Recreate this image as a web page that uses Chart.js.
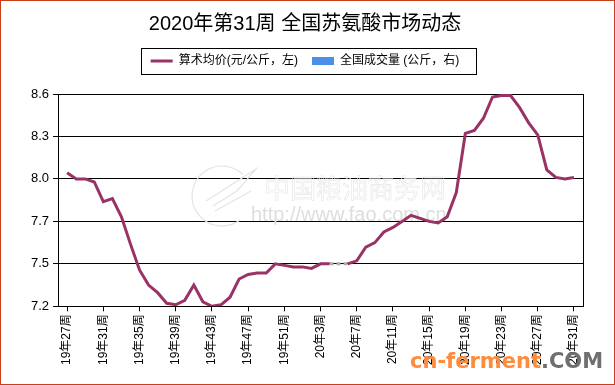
<!DOCTYPE html>
<html>
<head>
<meta charset="utf-8">
<script src="https://cdn.jsdelivr.net/npm/chart.js@4/dist/chart.umd.min.js"></script>
<style>
  html, body { margin: 0; padding: 0; background: #fff; }
  #wrap { position: relative; width: 615px; height: 385px; box-sizing: border-box; border: 1px solid #c8401a; }
  canvas { display: block; }
</style>
</head>
<body>
<div id="wrap"><canvas id="c" width="613" height="383"></canvas></div>
<script>
const titleText = "2020年第31周 全国苏氨酸市场动态";
const seriesNames = ["算术均价(元/公斤，左)", "全国成交量 (公斤，右)"];

const weekLabels = [
  "19年27周", "19年28周", "19年29周", "19年30周", "19年31周", "19年32周", "19年33周", "19年34周",
  "19年35周", "19年36周", "19年37周", "19年38周", "19年39周", "19年40周", "19年41周", "19年42周",
  "19年43周", "19年44周", "19年45周", "19年46周", "19年47周", "19年48周", "19年49周", "19年50周",
  "19年51周", "19年52周", "20年1周", "20年2周", "20年3周", "20年4周", "20年5周", "20年6周",
  "20年7周", "20年8周", "20年9周", "20年10周", "20年11周", "20年12周", "20年13周", "20年14周",
  "20年15周", "20年16周", "20年17周", "20年18周", "20年19周", "20年20周", "20年21周", "20年22周",
  "20年23周", "20年24周", "20年25周", "20年26周", "20年27周", "20年28周", "20年29周", "20年30周",
  "20年31周"
];

// average price, yuan/kg (week 20年5周 missing)
const avgPrice = [
  8.08, 8.04, 8.04, 8.02, 7.89, 7.91, 7.79, 7.61, 7.44, 7.34,
  7.29, 7.22, 7.21, 7.24, 7.34, 7.23, 7.20, 7.21, 7.26, 7.38,
  7.41, 7.42, 7.42, 7.48, 7.47, 7.46, 7.46, 7.45, 7.48, 7.48,
  null, 7.48, 7.50, 7.59, 7.62, 7.69, 7.72, 7.76, 7.80, 7.78,
  7.76, 7.75, 7.79, 7.95, 8.34, 8.36, 8.44, 8.58, 8.59, 8.59,
  8.51, 8.41, 8.33, 8.10, 8.05, 8.04, 8.05
];

// national volume: no values shown in the picture
const volume = [];

const xTickIndex = [0, 4, 8, 12, 16, 20, 24, 28, 32, 36, 40, 44, 48, 52, 56];
const yTickValues = [7.2, 7.48, 7.76, 8.04, 8.32, 8.6];
const yTickLabels = ["7.2", "7.5", "7.7", "8.0", "8.3", "8.6"];

const LINE = "#993366";
const BLUE = "#4a90e8";

const skipped = (ctx, v) => (ctx.p0.skip || ctx.p1.skip ? v : undefined);

// extra room under the legend
const legendGap = {
  id: "legendGap",
  beforeInit(chart) {
    const fit = chart.legend.fit;
    chart.legend.fit = function () {
      fit.call(this);
      this.height += 17;
    };
  }
};

// faint site watermark under the line, orange one on top
const watermark = {
  id: "watermark",
  beforeDatasetsDraw(chart) {
    const c = chart.ctx;
    c.save();
    c.strokeStyle = "#e4e4e4";
    c.lineWidth = 1.2;
    c.beginPath();
    c.arc(221, 195, 30, Math.PI * 0.3, Math.PI * 1.75);
    c.stroke();
    c.beginPath();
    c.moveTo(205, 200); c.lineTo(255, 168); c.lineTo(236, 190); c.lineTo(212, 205);
    c.moveTo(214, 210); c.lineTo(250, 190);
    c.stroke();
    c.lineWidth = 0.6;
    c.strokeStyle = "#e6e6e6";
    c.font = "26px 'Noto Sans CJK SC'";
    c.textBaseline = "alphabetic";
    c.strokeText("中国粮油商务网", 263, 197);
    c.fillStyle = "#dedede";
    c.font = "20px 'Liberation Sans'";
    c.fillText("http://www.fao.com.cn", 250, 220);
    c.restore();
  },
  afterDraw(chart) {
    const c = chart.ctx;
    c.save();
    // legend frame
    const boxes = chart.legend.legendHitBoxes;
    if (boxes.length) {
      const l = Math.min(...boxes.map(b => b.left)) - 10;
      const r = Math.max(...boxes.map(b => b.left + b.width)) + 16;
      const cy = boxes[0].top + boxes[0].height / 2;
      c.strokeStyle = "#000";
      c.lineWidth = 1;
      c.strokeRect(Math.round(l) + 0.5, Math.round(cy - 13) + 0.5, Math.round(r - l), 26);
    }
    c.font = "bold 21px 'DejaVu Sans'";
    c.textBaseline = "alphabetic";
    c.fillStyle = "#ff8c3c";
    c.fillText("cn-ferment", 409, 367);
    const w = c.measureText("cn-ferment").width;
    c.fillStyle = "#6f6f6f";
    c.fillText(".COM", 409 + w, 367);
    c.restore();
  }
};

new Chart(document.getElementById("c"), {
  data: {
    datasets: [
      {
        type: "line",
        label: seriesNames[0],
        data: avgPrice.map((v, i) => ({ x: i, y: v })),
        borderColor: LINE,
        backgroundColor: LINE,
        borderWidth: 3,
        pointRadius: 0,
        pointStyle: "line",
        tension: 0,
        spanGaps: true,
        segment: {
          borderColor: ctx => skipped(ctx, "#aaaaaa"),
          borderDash: ctx => skipped(ctx, [4, 3])
        },
        yAxisID: "y"
      },
      {
        type: "bar",
        label: seriesNames[1],
        data: volume,
        backgroundColor: BLUE,
        borderWidth: 0,
        pointStyle: "rect",
        yAxisID: "y1"
      }
    ]
  },
  options: {
    responsive: false,
    animation: false,
    layout: { padding: { left: 26, right: 31, top: 0, bottom: 16 } },
    plugins: {
      title: {
        display: true,
        text: titleText,
        color: "#000",
        font: { family: "'Liberation Sans', 'Noto Sans CJK SC'", size: 20, weight: "normal" },
        padding: { top: 11, bottom: 5 }
      },
      legend: {
        display: true,
        position: "top",
        labels: {
          color: "#000",
          font: { family: "'Liberation Sans', 'Noto Sans CJK SC'", size: 12 },
          usePointStyle: true,
          pointStyleWidth: 22,
          boxHeight: 8,
          padding: 14
        }
      },
      tooltip: { enabled: false }
    },
    scales: {
      x: {
        type: "linear",
        min: -1,
        max: 57,
        offset: false,
        afterBuildTicks: s => { s.ticks = xTickIndex.map(v => ({ value: v })); },
        ticks: {
          autoSkip: false,
          minRotation: 90,
          maxRotation: 90,
          color: "#000",
          padding: 3,
          font: { family: "'Liberation Sans', 'Noto Sans CJK SC'", size: 12 },
          callback: v => weekLabels[v]
        },
        grid: { offset: false, drawOnChartArea: false, drawTicks: true, tickLength: 5, color: "#000" },
        border: { color: "#000", width: 1 }
      },
      y: {
        position: "left",
        min: 7.2,
        max: 8.6,
        afterBuildTicks: s => { s.ticks = yTickValues.map(v => ({ value: v })); },
        ticks: {
          color: "#000",
          padding: 4,
          font: { family: "'Liberation Sans'", size: 13 },
          callback: (v, i) => yTickLabels[i]
        },
        grid: { color: "#000", lineWidth: 1, drawTicks: true, tickLength: 5 },
        border: { color: "#000", width: 1 }
      },
      y1: {
        position: "right",
        display: true,
        ticks: { display: false },
        grid: { drawOnChartArea: false, drawTicks: false },
        border: { color: "#000", width: 1 }
      }
    }
  },
  plugins: [legendGap, watermark]
});
</script>
</body>
</html>
